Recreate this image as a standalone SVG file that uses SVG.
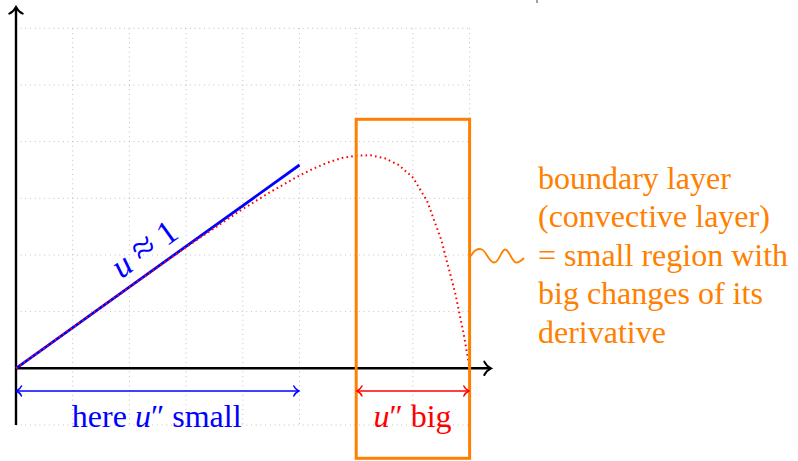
<svg xmlns="http://www.w3.org/2000/svg" width="798" height="461" viewBox="0 0 798 461">
<style>
.grid{stroke:#a8a8a8;stroke-width:0.8;stroke-dasharray:0.9 3.8;fill:none}
.axis{stroke:#000;stroke-width:2.4;fill:none}
.lbl{font-family:"Liberation Serif","Times New Roman",serif;font-size:32px}
.it{font-style:italic}
</style>
<defs>
<marker id="ahBlack" markerUnits="userSpaceOnUse" viewBox="-8 -8 10 16" refX="0" refY="0" markerWidth="10" markerHeight="16" orient="auto">
<path d="M-6.7,-6.7 C-5,-3 -1.8,-0.9 0,0 C-1.8,0.9 -5,3 -6.7,6.7" fill="none" stroke="#000" stroke-width="2" stroke-linecap="round"/>
</marker>
<marker id="ahBlue" markerUnits="userSpaceOnUse" viewBox="-7 -7 9 14" refX="0" refY="0" markerWidth="9" markerHeight="14" orient="auto-start-reverse">
<path d="M-5,-5 C-3.8,-2.3 -1.4,-0.7 0,0 C-1.4,0.7 -3.8,2.3 -5,5" fill="none" stroke="#0000ff" stroke-width="1.5" stroke-linecap="round"/>
</marker>
<marker id="ahRed" markerUnits="userSpaceOnUse" viewBox="-7 -7 9 14" refX="0" refY="0" markerWidth="9" markerHeight="14" orient="auto-start-reverse">
<path d="M-5,-5 C-3.8,-2.3 -1.4,-0.7 0,0 C-1.4,0.7 -3.8,2.3 -5,5" fill="none" stroke="#ff0000" stroke-width="1.5" stroke-linecap="round"/>
</marker>
</defs>
<rect width="798" height="461" fill="#fff"/>
<g id="grid">
<path class="grid" d="M72.7,28.3V425 M129.4,28.3V425 M186.1,28.3V425 M242.8,28.3V425 M299.5,28.3V425 M356.2,28.3V425 M412.9,28.3V425 M469.6,28.3V425"/>
<path class="grid" d="M16,28.3H469.6 M16,85H469.6 M16,141.6H469.6 M16,198.3H469.6 M16,255H469.6 M16,311.6H469.6 M16,425H469.6"/>
</g>
<g id="axes">
<path class="axis" d="M16,425 V7" marker-end="url(#ahBlack)"/>
<path class="axis" d="M16,368.3 H491" marker-end="url(#ahBlack)"/>
</g>
<g id="curves">
<path d="M16,368.3 L299.5,165" fill="none" stroke="#0000ff" stroke-width="2.8"/>
<polyline points="16,368.3 72.7,327.7 129.4,287.2 186.1,247.1 242.8,209 271.2,191.5 299.5,175.5 313.7,168.5 327.9,162.5 342,158 356.2,155.6 370.4,155.3 384.6,158.2 398.7,165 412.9,177.5 427.1,201 441.3,240 455.4,294 463.9,335 469.6,368.3" fill="none" stroke="#ff0000" stroke-width="2" stroke-dasharray="1.6 3.2" stroke-linejoin="round"/>
</g>
<g id="label-u1">
<text class="lbl" transform="translate(157.2,267) rotate(-35.66)" x="0" y="-11" text-anchor="middle" fill="#0000ff" style="font-size:34px"><tspan class="it">u</tspan> <tspan style="font-size:40px">≈</tspan> 1</text>
</g>
<g id="boundary-box">
<rect x="356.2" y="119.3" width="113.4" height="339" fill="none" stroke="#ff8000" stroke-width="3"/>
</g>
<g id="connectors">
<path d="M16.5,391 H298.8" fill="none" stroke="#0000ff" stroke-width="1.5" marker-start="url(#ahBlue)" marker-end="url(#ahBlue)"/>
<path d="M357,391 H468.8" fill="none" stroke="#ff0000" stroke-width="1.5" marker-start="url(#ahRed)" marker-end="url(#ahRed)"/>
<path d="M471,256 C474,250 478,248 482,249.5 C486,251 489,262 494,262.5 C499,263 501,250 505,249.5 C509,249 512,262 516,262.5 C519,263 522,260 524,258" fill="none" stroke="#ff8000" stroke-width="1.8"/>
</g>
<g id="label-small">
<text class="lbl" x="156.7" y="427.3" text-anchor="middle" fill="#0000ff">here <tspan class="it">u</tspan>″ small</text>
</g>
<g id="label-big">
<text class="lbl" x="412.5" y="427.3" text-anchor="middle" fill="#ff0000"><tspan class="it">u</tspan>″ big</text>
</g>
<g id="label-boundary">
<text class="lbl" fill="#ff8000">
<tspan x="538" y="189">boundary layer</tspan>
<tspan x="538" y="227.4">(convective layer)</tspan>
<tspan x="538" y="265.8">= small region with</tspan>
<tspan x="538" y="304.2">big changes of its</tspan>
<tspan x="538" y="342.6">derivative</tspan>
</text>
</g>
<path d="M537,0 V3" stroke="#444" stroke-width="1"/>
</svg>
